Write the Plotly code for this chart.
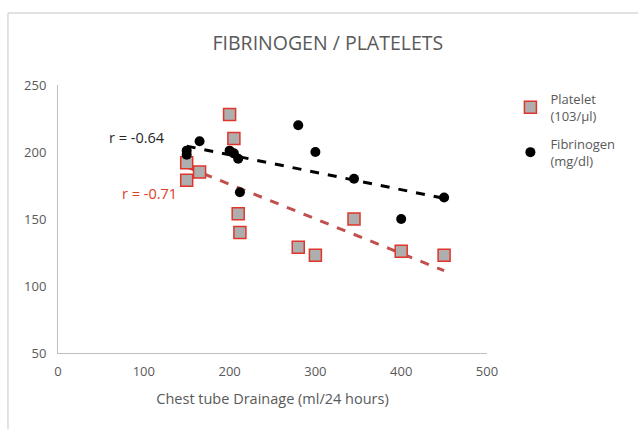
import numpy as np
import plotly.graph_objects as go

# Chest tube drainage (ml/24 hours)
drainage = [150, 150, 165, 200, 205, 210, 212, 280, 300, 345, 400, 450]
platelet = [192, 179, 185, 228, 210, 154, 140, 129, 123, 150, 126, 123]
drainage_fib = [150, 150, 165, 200, 205, 210, 212, 280, 300, 345, 400, 450]
fibrinogen = [201, 198, 208, 201, 199, 195, 170, 220, 200, 180, 150, 166]

x_ticks = [0, 100, 200, 300, 400, 500]
y_ticks = [50, 100, 150, 200, 250]

FONT = "Open Sans, Lato, sans-serif"
GRAY = "#595959"

# Linear trendlines (least squares), drawn over the data range
fx = np.array([min(drainage), max(drainage)])
p_fit = np.polyfit(drainage, platelet, 1)
f_fit = np.polyfit(drainage_fib, fibrinogen, 1)

fig = go.Figure()

fig.add_trace(go.Scatter(
    x=fx, y=np.polyval(p_fit, fx), mode="lines",
    line=dict(color="#c0504d", width=3, dash="dash"),
    showlegend=False, hoverinfo="skip",
))
fig.add_trace(go.Scatter(
    x=fx, y=np.polyval(f_fit, fx), mode="lines",
    line=dict(color="black", width=3, dash="dash"),
    showlegend=False, hoverinfo="skip",
))

fig.add_trace(go.Scatter(
    x=drainage, y=platelet, mode="markers",
    name="Platelet<br>(103/µl)", legendgroup="p",
    marker=dict(symbol="square", size=12, color="#aeaeae",
                line=dict(color="#e0352b", width=1.5)),
))
fig.add_trace(go.Scatter(
    x=drainage_fib, y=fibrinogen, mode="markers",
    name="Fibrinogen<br>(mg/dl)", legendgroup="f",
    marker=dict(symbol="circle", size=10, color="black"),
))

fig.add_annotation(x=92, y=211, text="r = -0.64", showarrow=False,
                   font=dict(color="#262626", size=14.5, family=FONT))
fig.add_annotation(x=107, y=169, text="r = -0.71", showarrow=False,
                   font=dict(color="#e0402a", size=14.5, family=FONT))

# outer chart border (left and top edges visible)
fig.add_shape(type="line", xref="paper", yref="paper",
              x0=-0.1166, x1=-0.1166, y0=-0.3, y1=1.2687,
              line=dict(color="#d9d9d9", width=1.5))
fig.add_shape(type="line", xref="paper", yref="paper",
              x0=-0.1166, x1=1.4, y0=1.2687, y1=1.2687,
              line=dict(color="#d9d9d9", width=1.5))

fig.update_layout(
    width=638, height=429,
    margin=dict(l=58, r=151, t=85, b=76),
    paper_bgcolor="white", plot_bgcolor="white",
    font=dict(family=FONT, color=GRAY, size=13),
    title=dict(text="FIBRINOGEN / PLATELETS", xref="paper", x=0.629,
               xanchor="center", y=0.9, yanchor="middle",
               font=dict(size=19.5, color=GRAY, family=FONT)),
    legend=dict(xref="container", x=0.8, y=1.004, xanchor="left",
                yanchor="top", bgcolor="rgba(0,0,0,0)",
                font=dict(size=13, color=GRAY, family=FONT),
                tracegroupgap=8, itemwidth=30),
    xaxis=dict(range=[0, 500], tickvals=x_ticks, showgrid=False,
               zeroline=False, showline=True, linecolor="#bfbfbf",
               linewidth=1, ticks="", tickfont=dict(color=GRAY),
               automargin=False, ticklabelstandoff=6,
               title=dict(text="Chest tube Drainage (ml/24 hours)",
                          font=dict(size=14.5, color=GRAY), standoff=15)),
    yaxis=dict(range=[50, 250], tickvals=y_ticks, showgrid=False,
               zeroline=False, showline=True, linecolor="#bfbfbf",
               linewidth=1, ticks="", tickfont=dict(color=GRAY),
               automargin=False, ticklabelstandoff=8),
)

fig.write_html("out.html", config={"displayModeBar": False},
               post_script="document.body.style.margin='0';")
